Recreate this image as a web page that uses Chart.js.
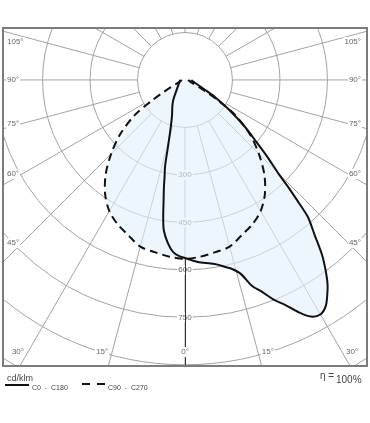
<!DOCTYPE html>
<html>
<head>
<meta charset="utf-8">
<script src="https://cdn.jsdelivr.net/npm/chart.js@4.4.1/dist/chart.umd.min.js"></script>
<style>
  html, body { margin: 0; padding: 0; background: #fff; }
  #wrap { width: 370px; height: 423px; }
</style>
</head>
<body>
<div id="wrap"><canvas id="ldc" width="370" height="423"></canvas></div>
<script>
// C0 - C180 plane (solid), angle from nadir in degrees, cd/klm
const c0Angles = [0, 4, 8, 10, 12, 14, 16, 18, 20, 22, 24, 26, 28, 30, 32, 34, 35, 36, 37, 38, 39, 40, 41, 42, 43, 44, 45, 47, 49, 52, 56, 60, 63, 70, 80, 90];
const c0Values = [562, 576, 585, 592, 603, 615, 636, 683, 712, 748, 777, 815, 846, 855, 840, 805, 785, 760, 733, 705, 670, 636, 608, 578, 520, 468, 417, 355, 300, 240, 168, 112, 78, 42, 25, 20];
const c180Angles = [0, 2, 4, 6, 8, 9, 10, 11, 12, 13, 14, 16, 20, 25, 30, 40, 60, 90];
const c180Values = [562, 556, 544, 518, 480, 440, 390, 350, 310, 280, 230, 170, 120, 95, 75, 41, 22, 15];

// C90 - C270 plane (dashed), symmetric
const c90Angles = [0, 5, 10, 15, 20, 25, 30, 35, 40, 45, 50, 55, 58, 60, 63, 70, 90];
const c90Values = [565, 560, 552, 545, 522, 503, 478, 440, 390, 330, 268, 195, 125, 88, 50, 20, 10];
const c270Angles = c90Angles;
const c270Values = c90Values;

// grid
const ringValues = [150, 300, 450, 600, 750, 900, 1050, 1200];
const ringLabels = ['300', '450', '600', '750'];
const angleTicks = [105, 90, 75, 60, 45, 30, 15, 0];
const seriesNames = ['C0  -  C180', 'C90  -  C270'];
const unitLabel = 'cd/klm';
const efficiencyLabel = '100%';

function toXY(deg, v) {
  const r = deg * Math.PI / 180;
  return { x: v * Math.sin(r), y: -v * Math.cos(r) };
}

function planePoints(leftA, leftV, rightA, rightV) {
  const pts = [];
  for (let i = leftA.length - 1; i >= 0; i--) pts.push(toXY(-leftA[i], leftV[i]));
  for (let i = 1; i < rightA.length; i++) pts.push(toXY(rightA[i], rightV[i]));
  return pts;
}

const FONT = '"Liberation Sans", Arial, sans-serif';

function labelWithBg(ctx, text, x, y, align) {
  ctx.textAlign = align;
  const w = ctx.measureText(text).width;
  let left = x;
  if (align === 'center') left = x - w / 2;
  if (align === 'right') left = x - w;
  ctx.fillStyle = '#fff';
  ctx.fillRect(left - 1, y - 5, w + 2, 10);
  ctx.fillStyle = '#666';
  ctx.fillText(text, x, y);
}

const polarGrid = {
  id: 'polarGrid',
  beforeDatasetsDraw(chart) {
    const { ctx, chartArea: a, scales: { x, y } } = chart;
    const cx = x.getPixelForValue(0), cy = y.getPixelForValue(0);
    const k = (x.getPixelForValue(1000) - cx) / 1000;
    ctx.save();
    ctx.beginPath();
    ctx.rect(a.left, a.top, a.right - a.left, a.bottom - a.top);
    ctx.clip();

    ctx.strokeStyle = '#a2a2a2';
    ctx.lineWidth = 1;
    ringValues.forEach(v => {
      ctx.beginPath();
      ctx.arc(cx, cy, v * k, 0, Math.PI * 2);
      ctx.stroke();
    });
    for (let g = 0; g < 360; g += 15) {
      const p1 = toXY(g, ringValues[0]), p2 = toXY(g, 1400);
      ctx.beginPath();
      ctx.moveTo(cx + p1.x * k, cy - p1.y * k);
      ctx.lineTo(cx + p2.x * k, cy - p2.y * k);
      ctx.stroke();
    }

    // ring labels
    ctx.font = '8px ' + FONT;
    ctx.textBaseline = 'middle';
    ringLabels.forEach(t => labelWithBg(ctx, t, cx, y.getPixelForValue(-Number(t)), 'center'));

    // light fill of both planes (union)
    ctx.beginPath();
    chart.data.datasets.forEach((ds, i) => {
      chart.getDatasetMeta(i).data.forEach((p, j) => j ? ctx.lineTo(p.x, p.y) : ctx.moveTo(p.x, p.y));
      ctx.closePath();
    });
    ctx.fillStyle = 'rgba(226,239,251,0.62)';
    ctx.fill('nonzero');
    ctx.restore();
  },
  afterDatasetsDraw(chart) {
    const { ctx, chartArea: a, scales: { x, y } } = chart;
    const cx = x.getPixelForValue(0), cy = y.getPixelForValue(0);
    ctx.save();
    // dark nadir axis below the curves
    ctx.strokeStyle = '#333';
    ctx.lineWidth = 1;
    ctx.beginPath();
    ctx.moveTo(Math.round(cx) + 0.5, y.getPixelForValue(-c90Values[0]));
    ctx.lineTo(Math.round(cx) + 0.5, a.bottom);
    ctx.stroke();

    // angle labels
    ctx.font = '8px ' + FONT;
    ctx.textBaseline = 'middle';
    const bottomY = a.bottom - 14;
    angleTicks.forEach(g => {
      const txt = g + '\u00b0';
      if (g >= 45) {
        const r = g * Math.PI / 180;
        const dx = cx - (a.left + 19);
        let ty = cy + dx * Math.cos(r) / Math.sin(r);
        ty = Math.max(ty, a.top + 14);
        labelWithBg(ctx, txt, a.left + 4, ty, 'left');
        labelWithBg(ctx, txt, a.right - 6, ty, 'right');
      } else if (g === 0) {
        labelWithBg(ctx, txt, cx, bottomY, 'center');
      } else {
        const off = (bottomY - cy) * Math.tan(g * Math.PI / 180) + 10;
        labelWithBg(ctx, txt, cx - off, bottomY, 'center');
        labelWithBg(ctx, txt, cx + off, bottomY, 'center');
      }
    });
    ctx.restore();
  },
  afterDraw(chart) {
    const { ctx, chartArea: a } = chart;
    ctx.save();
    ctx.strokeStyle = '#7c7c7c';
    ctx.lineWidth = 2;
    ctx.strokeRect(a.left, a.top, a.right - a.left, a.bottom - a.top);

    // legend below the frame
    ctx.fillStyle = '#444';
    ctx.textBaseline = 'alphabetic';
    ctx.textAlign = 'left';
    ctx.font = '9px ' + FONT;
    ctx.fillText(unitLabel, a.left + 4, a.bottom + 15);
    ctx.strokeStyle = '#111';
    ctx.lineWidth = 2;
    ctx.beginPath();
    ctx.moveTo(a.left + 2, a.bottom + 19);
    ctx.lineTo(a.left + 26, a.bottom + 19);
    ctx.stroke();
    ctx.setLineDash([8, 7]);
    ctx.beginPath();
    ctx.moveTo(a.left + 79, a.bottom + 18);
    ctx.lineTo(a.left + 102, a.bottom + 18);
    ctx.stroke();
    ctx.setLineDash([]);
    ctx.font = '7px ' + FONT;
    ctx.fillText(seriesNames[0], a.left + 29, a.bottom + 24);
    ctx.fillText(seriesNames[1], a.left + 105, a.bottom + 24);

    ctx.font = '10px ' + FONT;
    ctx.textAlign = 'left';
    ctx.fillText('\u03b7 =', a.right - 47, a.bottom + 13);
    ctx.fillText(efficiencyLabel, a.right - 31, a.bottom + 17);
    ctx.restore();
  }
};

new Chart(document.getElementById('ldc'), {
  type: 'scatter',
  data: {
    datasets: [
      {
        label: seriesNames[0],
        data: planePoints(c180Angles, c180Values, c0Angles, c0Values),
        showLine: true,
        borderColor: '#111',
        borderWidth: 2,
        pointRadius: 0,
        tension: 0.3
      },
      {
        label: seriesNames[1],
        data: planePoints(c270Angles, c270Values, c90Angles, c90Values),
        showLine: true,
        borderColor: '#111',
        borderWidth: 2,
        borderDash: [8, 5],
        pointRadius: 0,
        tension: 0.3
      }
    ]
  },
  options: {
    responsive: false,
    animation: false,
    devicePixelRatio: 1,
    layout: { padding: { left: 3, right: 3, top: 28, bottom: 57 } },
    scales: {
      x: { type: 'linear', min: -575, max: 575, display: false },
      y: { type: 'linear', min: -903, max: 164, display: false }
    },
    plugins: {
      legend: { display: false },
      tooltip: { enabled: false }
    }
  },
  plugins: [polarGrid]
});
</script>
</body>
</html>
